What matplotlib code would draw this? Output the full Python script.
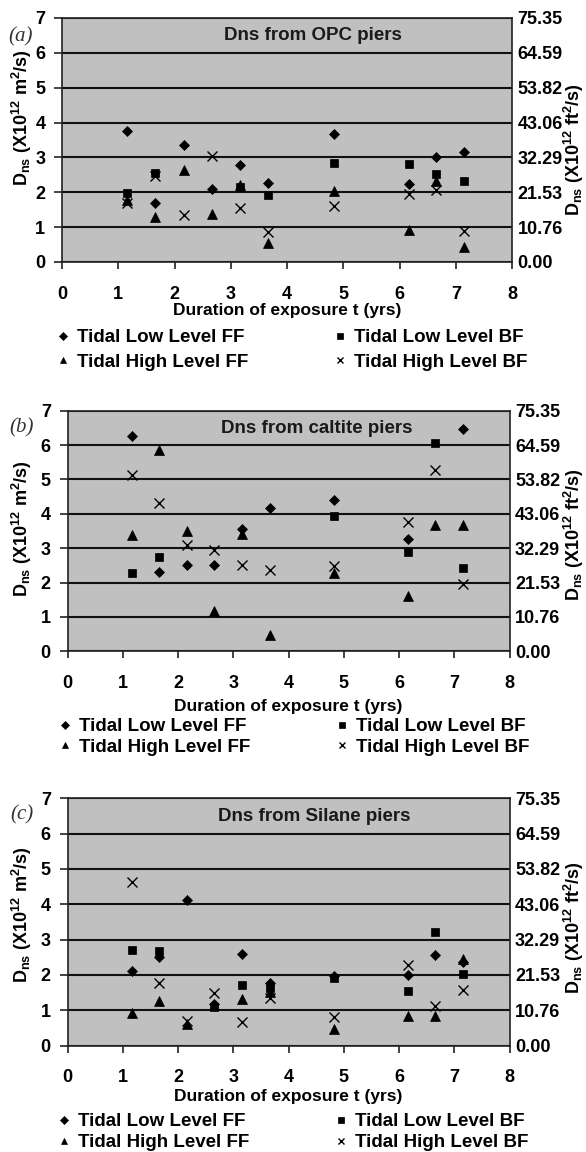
import numpy as np
import matplotlib
matplotlib.use('Agg')
import matplotlib.pyplot as plt
from matplotlib.lines import Line2D

plt.rcParams['font.family'] = ['Liberation Sans', 'DejaVu Sans']
plt.rcParams['font.weight'] = 'bold'
plt.rcParams['mathtext.fontset'] = 'custom'
plt.rcParams['mathtext.rm'] = 'Liberation Sans:bold'
plt.rcParams['mathtext.it'] = 'Liberation Sans:bold'
plt.rcParams['mathtext.bf'] = 'Liberation Sans:bold'
plt.rcParams['mathtext.default'] = 'rm'

nan = np.nan

# ---------------- data ----------------
t_years = [1.16, 1.66, 2.16, 2.66, 3.16, 3.66, 4.83, 6.16, 6.65, 7.15]

series_names = ["Tidal Low Level FF", "Tidal Low Level BF",
                "Tidal High Level FF", "Tidal High Level BF"]

opc_low_ff = [3.76, 1.70, 3.35, 2.08, 2.78, 2.27, 3.66, 2.24, 3.02, 3.15]
opc_low_bf = [1.98, 2.56, nan, nan, 2.16, 1.93, 2.85, 2.80, 2.52, 2.32]
opc_high_ff = [1.77, 1.29, 2.65, 1.37, 2.22, 0.55, 2.04, 0.93, 2.33, 0.43]
opc_high_bf = [1.70, 2.46, 1.34, 3.05, 1.54, 0.86, 1.61, 1.94, 2.06, 0.89]

caltite_low_ff = [6.26, 2.30, 2.51, 2.51, 3.57, 4.16, 4.40, 3.26, nan, 6.46]
caltite_low_bf = [2.29, 2.75, nan, nan, nan, nan, 3.93, 2.90, 6.07, 2.41]
caltite_high_ff = [3.38, 5.85, 3.50, 1.18, 3.42, 0.47, 2.29, 1.61, 3.67, 3.67]
caltite_high_bf = [5.13, 4.32, 3.09, 2.95, 2.51, 2.36, 2.48, 3.77, 5.27, 1.95]

silane_low_ff = [2.11, 2.50, 4.11, 1.18, 2.59, 1.76, 1.97, 2.00, 2.55, 2.36]
silane_low_bf = [2.70, 2.69, nan, 1.10, 1.70, 1.62, 1.90, 1.55, 3.22, 2.03]
silane_high_ff = [0.93, 1.27, 0.60, 1.15, 1.31, 1.52, 0.48, 0.83, 0.83, 2.45]
silane_high_bf = [4.64, 1.78, 0.68, 1.48, 0.67, 1.35, 0.81, 2.29, 1.11, 1.57]

panel_titles = ["Dns from OPC piers", "Dns from caltite piers", "Dns from Silane piers"]
panel_letters = ["(a)", "(b)", "(c)"]

x_ticks = [0, 1, 2, 3, 4, 5, 6, 7, 8]
y_ticks = [0, 1, 2, 3, 4, 5, 6, 7]
right_tick_labels = ['0.00', '10.76', '21.53', '32.29', '43.06', '53.82', '64.59', '75.35']
right_max = 75.35

x_label = "Duration of exposure t (yrs)"
y_label_left = r"D$_{\mathregular{ns}}$ (X10$^{12}$ m$^{2}$/s)"
y_label_right = r"D$_{\mathregular{ns}}$ (X10$^{12}$ ft$^{2}$/s)"

panel_data = [
    [opc_low_ff, opc_low_bf, opc_high_ff, opc_high_bf],
    [caltite_low_ff, caltite_low_bf, caltite_high_ff, caltite_high_bf],
    [silane_low_ff, silane_low_bf, silane_high_ff, silane_high_bf],
]

# ---------------- layout (pixels) ----------------
W, H = 586, 1152
def fx(px):
    return px / W
def fy(py):
    return 1 - py / H

boxes = [(62, 18, 512, 262), (67.5, 410.7, 509.5, 651.3), (67.5, 798.3, 509.5, 1045.5)]
letter_pos = [(21, 37), (22, 428), (22, 815)]
title_pos = [(313, 35), (317, 428.3), (314, 816.7)]
ylab_left_pos = [(22, 118), (22, 529), (22, 915)]
ylab_right_pos = [(574, 150), (574, 535), (574, 928)]
xlab_pos = [(287, 310), (288, 707), (288, 1096)]
legend_pos = [(57, 329), (59, 718), (58, 1113)]
legend_spacing = [0.4, 0.18, 0.22]

markers = ['D', 's', '^', 'x']
msizes = [5.5, 5.5, 6.5, 6.5]

fig = plt.figure(figsize=(W / 100, H / 100), dpi=100)
fig.patch.set_facecolor('white')

for i in range(3):
    l, t, r, b = boxes[i]
    ax = fig.add_axes([fx(l), fy(b), fx(r) - fx(l), fy(t) - fy(b)])
    ax.set_facecolor('#c0c0c0')
    ax.set_axisbelow(True)
    for k, vals in enumerate(panel_data[i]):
        ax.plot(t_years, vals, linestyle='none', marker=markers[k],
                markersize=msizes[k], color='black',
                markeredgewidth=1.0 if markers[k] == 'x' else 0.5,
                zorder=3)
    ax.set_xlim(0, 8)
    ax.set_ylim(0, 7)
    ax.set_xticks(x_ticks)
    ax.set_yticks(y_ticks)
    ax.grid(axis='y', color='#111111', linewidth=1.5)
    ax.grid(axis='x', visible=False)
    for sp in ax.spines.values():
        sp.set_color('#222222')
        sp.set_linewidth(1.2)
    ax.tick_params(axis='x', direction='out', length=5, width=1.2,
                   labelsize=13, pad=12, color='#222222')
    ax.tick_params(axis='y', direction='out', length=6, width=1.2,
                   labelsize=13, pad=6, color='#222222')
    for lab in ax.get_xticklabels() + ax.get_yticklabels():
        lab.set_fontweight('bold')

    ax2 = ax.twinx()
    ax2.set_ylim(0, right_max)
    ax2.set_yticks([float(v) for v in right_tick_labels])
    ax2.set_yticklabels(right_tick_labels, fontsize=13, fontweight='bold')
    ax2.tick_params(axis='y', length=0, pad=4)
    for sp in ax2.spines.values():
        sp.set_visible(False)

    # title inside plot
    tx, ty = title_pos[i]
    fig.text(fx(tx), fy(ty), panel_titles[i], ha='center', va='center',
             fontsize=13.5, fontweight='bold', color='#1a1a1a')
    # panel letter
    lx, ly = letter_pos[i]
    fig.text(fx(lx), fy(ly), panel_letters[i], ha='center', va='center',
             fontsize=15, fontstyle='italic', fontweight='normal',
             family=['Liberation Serif', 'DejaVu Serif'], color='#333333')
    # axis labels
    yx, yy = ylab_left_pos[i]
    fig.text(fx(yx), fy(yy), y_label_left, rotation=90, ha='center', va='center',
             fontsize=13, fontweight='bold')
    rx, ry = ylab_right_pos[i]
    fig.text(fx(rx), fy(ry), y_label_right, rotation=90, ha='center', va='center',
             fontsize=13, fontweight='bold')
    xx, xy = xlab_pos[i]
    fig.text(fx(xx), fy(xy), x_label, ha='center', va='center',
             fontsize=12.5, fontweight='bold')

    # legend
    handles = [Line2D([], [], linestyle='none', marker=markers[k], color='black',
                      markersize=msizes[k] * 0.75,
                      markeredgewidth=1.0 if markers[k] == 'x' else 0.5)
               for k in range(4)]
    order = [0, 2, 1, 3]
    lgx, lgy = legend_pos[i]
    leg = fig.legend([handles[k] for k in order], [series_names[k] for k in order],
                     ncol=2, loc='upper left', bbox_to_anchor=(fx(lgx), fy(lgy)),
                     bbox_transform=fig.transFigure, frameon=True,
                     facecolor='white', edgecolor='none', framealpha=1,
                     borderpad=0.0, borderaxespad=0.0, handlelength=0.6,
                     handletextpad=0.45, columnspacing=4.6,
                     labelspacing=legend_spacing[i],
                     prop={'size': 13.5, 'weight': 'bold'})
    leg.set_zorder(10)

fig.savefig('out.png', dpi=100, facecolor='white')
